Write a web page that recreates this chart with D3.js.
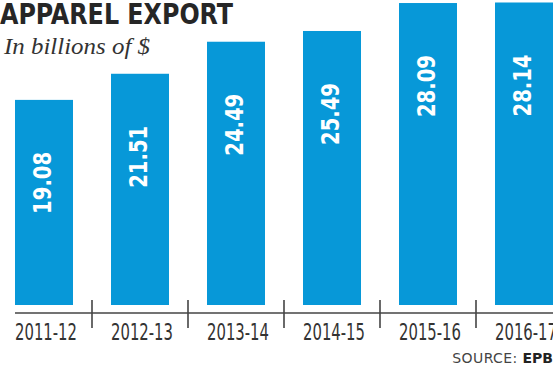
<!DOCTYPE html>
<html>
<head>
<meta charset="utf-8">
<script src="https://cdn.jsdelivr.net/npm/d3@7/dist/d3.min.js"></script>
<style>
  html, body { margin: 0; padding: 0; background: #fff; }
  svg { display: block; }
</style>
</head>
<body>
<svg id="chart"></svg>
<script>
const years = ["2011-12", "2012-13", "2013-14", "2014-15", "2015-16", "2016-17"];
const exports = [19.08, 21.51, 24.49, 25.49, 28.09, 28.14];

const width = 553;
const height = 365;
const baseY = 305;
const axisY = 313;
const condensed = "'DejaVu Sans Condensed', 'Liberation Sans Narrow', sans-serif";

const svg = d3.select("#chart").attr("width", width).attr("height", height);

const x = d3.scaleBand()
  .domain(years)
  .range([-4, -4 + 96 * years.length])
  .paddingInner(0.396)
  .paddingOuter(0.198);

const y = d3.scaleLinear()
  .domain([0, 30])
  .range([baseY, baseY - 30 * 10.75]);

// title
svg.append("text")
  .attr("x", 0)
  .attr("y", 24)
  .attr("font-family", condensed)
  .attr("font-weight", "bold")
  .attr("font-size", 28)
  .attr("fill", "#262626")
  .attr("textLength", 233)
  .attr("lengthAdjust", "spacingAndGlyphs")
  .text("APPAREL EXPORT");

svg.append("text")
  .attr("x", 4)
  .attr("y", 54)
  .attr("font-family", "'Liberation Serif', 'DejaVu Serif', serif")
  .attr("font-style", "italic")
  .attr("font-size", 23)
  .attr("fill", "#333")
  .attr("textLength", 146)
  .attr("lengthAdjust", "spacingAndGlyphs")
  .text("In billions of $");

const data = years.map((d, i) => ({ year: d, value: exports[i] }));

// bars
svg.append("g")
  .selectAll("rect")
  .data(data)
  .join("rect")
  .attr("x", d => x(d.year))
  .attr("y", d => y(d.value))
  .attr("width", x.bandwidth())
  .attr("height", d => y(0) - y(d.value))
  .attr("fill", "#0798d8");

// value labels, rotated
svg.append("g")
  .selectAll("text")
  .data(data)
  .join("text")
  .attr("transform", d => `translate(${x(d.year) + x.bandwidth() / 2 + 7},${y(d.value) + 52}) rotate(-90)`)
  .attr("text-anchor", "end")
  .attr("font-family", condensed)
  .attr("font-weight", "bold")
  .attr("font-size", 25)
  .attr("fill", "#fff")
  .attr("textLength", 62)
  .attr("lengthAdjust", "spacingAndGlyphs")
  .text(d => d.value.toFixed(2));

// axis
const axis = svg.append("g");
axis.append("line")
  .attr("x1", x(years[0]))
  .attr("x2", width)
  .attr("y1", axisY)
  .attr("y2", axisY)
  .attr("stroke", "#444")
  .attr("stroke-width", 1.6);

axis.selectAll("line.tick")
  .data(years.slice(1))
  .join("line")
  .attr("class", "tick")
  .attr("x1", d => x(d) - x.step() * x.paddingInner() / 2)
  .attr("x2", d => x(d) - x.step() * x.paddingInner() / 2)
  .attr("y1", 300)
  .attr("y2", 328)
  .attr("stroke", "#444")
  .attr("stroke-width", 1.6);

axis.selectAll("text")
  .data(years)
  .join("text")
  .attr("x", d => x(d) + x.bandwidth() / 2 + 2)
  .attr("y", 340)
  .attr("text-anchor", "middle")
  .attr("font-family", condensed)
  .attr("font-size", 23)
  .attr("fill", "#333")
  .attr("textLength", 62)
  .attr("lengthAdjust", "spacingAndGlyphs")
  .text(d => d);

// source
const src = svg.append("text")
  .attr("x", 553)
  .attr("y", 363)
  .attr("text-anchor", "end")
  .attr("font-family", "'DejaVu Sans', sans-serif")
  .attr("font-size", 14)
  .attr("fill", "#444");
src.append("tspan").attr("letter-spacing", 0.4).text("SOURCE: ");
src.append("tspan").attr("font-weight", "bold").attr("fill", "#222").text("EPB");
</script>
</body>
</html>
